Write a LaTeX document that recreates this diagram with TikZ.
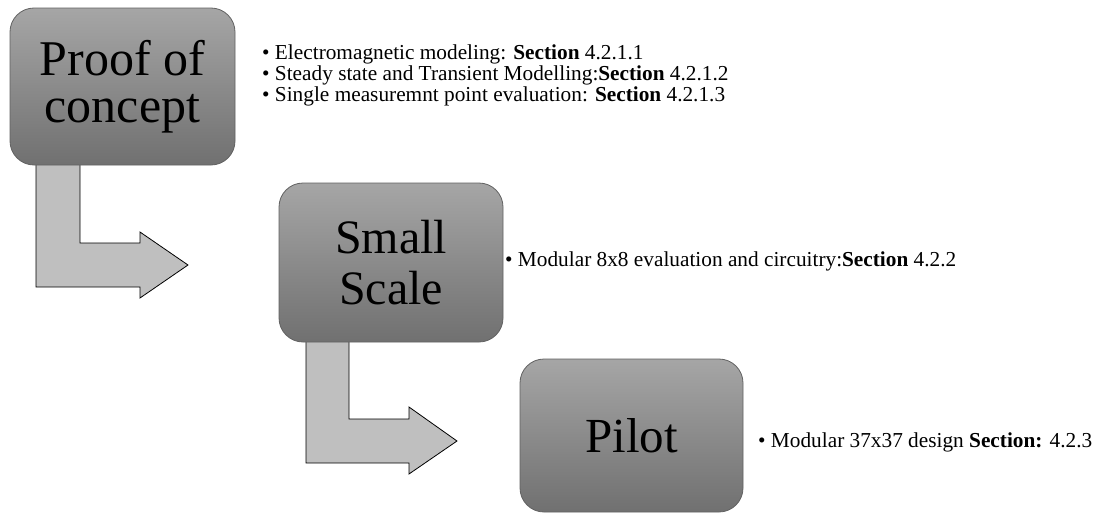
\documentclass[tikz,border=0pt]{standalone}
\usepackage{fontspec}
\setmainfont{Liberation Serif}[Ligatures=TeX]
\begin{document}
\begin{tikzpicture}[x=1pt,y=-1pt,
  stage/.style={draw=black!62, line width=0.8pt, rounded corners=24pt,
    top color=black!35, bottom color=black!56, align=center, inner sep=0pt},
  blockarrow/.style={draw=black, line width=0.8pt, fill=black!25, line join=miter},
  note/.style={anchor=base west, inner sep=0pt, font=\fontsize{21.3}{22}\selectfont}]
\useasboundingbox (0,0) rectangle (1094,514);

% bent block arrows (drawn first so the boxes cover their tops)
\draw[blockarrow] (36,150) -- (80,150) -- (80,243) -- (140,243) -- (140,232)
  -- (188,265) -- (140,298) -- (140,287) -- (36,287) -- cycle;
\draw[blockarrow] (306,330) -- (349,330) -- (349,419) -- (409,419) -- (409,407)
  -- (457,441) -- (409,474) -- (409,463) -- (306,463) -- cycle;

% process stages
\node[stage, minimum width=225pt, minimum height=157pt,
  font=\fontsize{50}{47}\selectfont] (poc) at (122.5,86.5) {Proof of\\concept};
\node[stage, minimum width=224pt, minimum height=159pt,
  font=\fontsize{48}{51}\selectfont] (small) at (391,262.5) {Small\\Scale};
\node[stage, minimum width=223pt, minimum height=153pt,
  font=\fontsize{49}{49}\selectfont] (pilot) at (631.5,435.5) {Pilot};

% stage descriptions
\node[note] (poc1) at (262,59) {• Electromagnetic modeling: \textbf{Section} 4.2.1.1};
\node[note] (poc2) at (262,80) {• Steady state and Transient Modelling:\textbf{Section} 4.2.1.2};
\node[note] (poc3) at (262,101) {• Single measuremnt point evaluation: \textbf{Section} 4.2.1.3};
\node[note] (small1) at (505,266) {• Modular 8x8 evaluation and circuitry:\textbf{Section} 4.2.2};
\node[note] (pilot1) at (758,447) {• Modular 37x37 design \textbf{Section:} 4.2.3};
\end{tikzpicture}
\end{document}
